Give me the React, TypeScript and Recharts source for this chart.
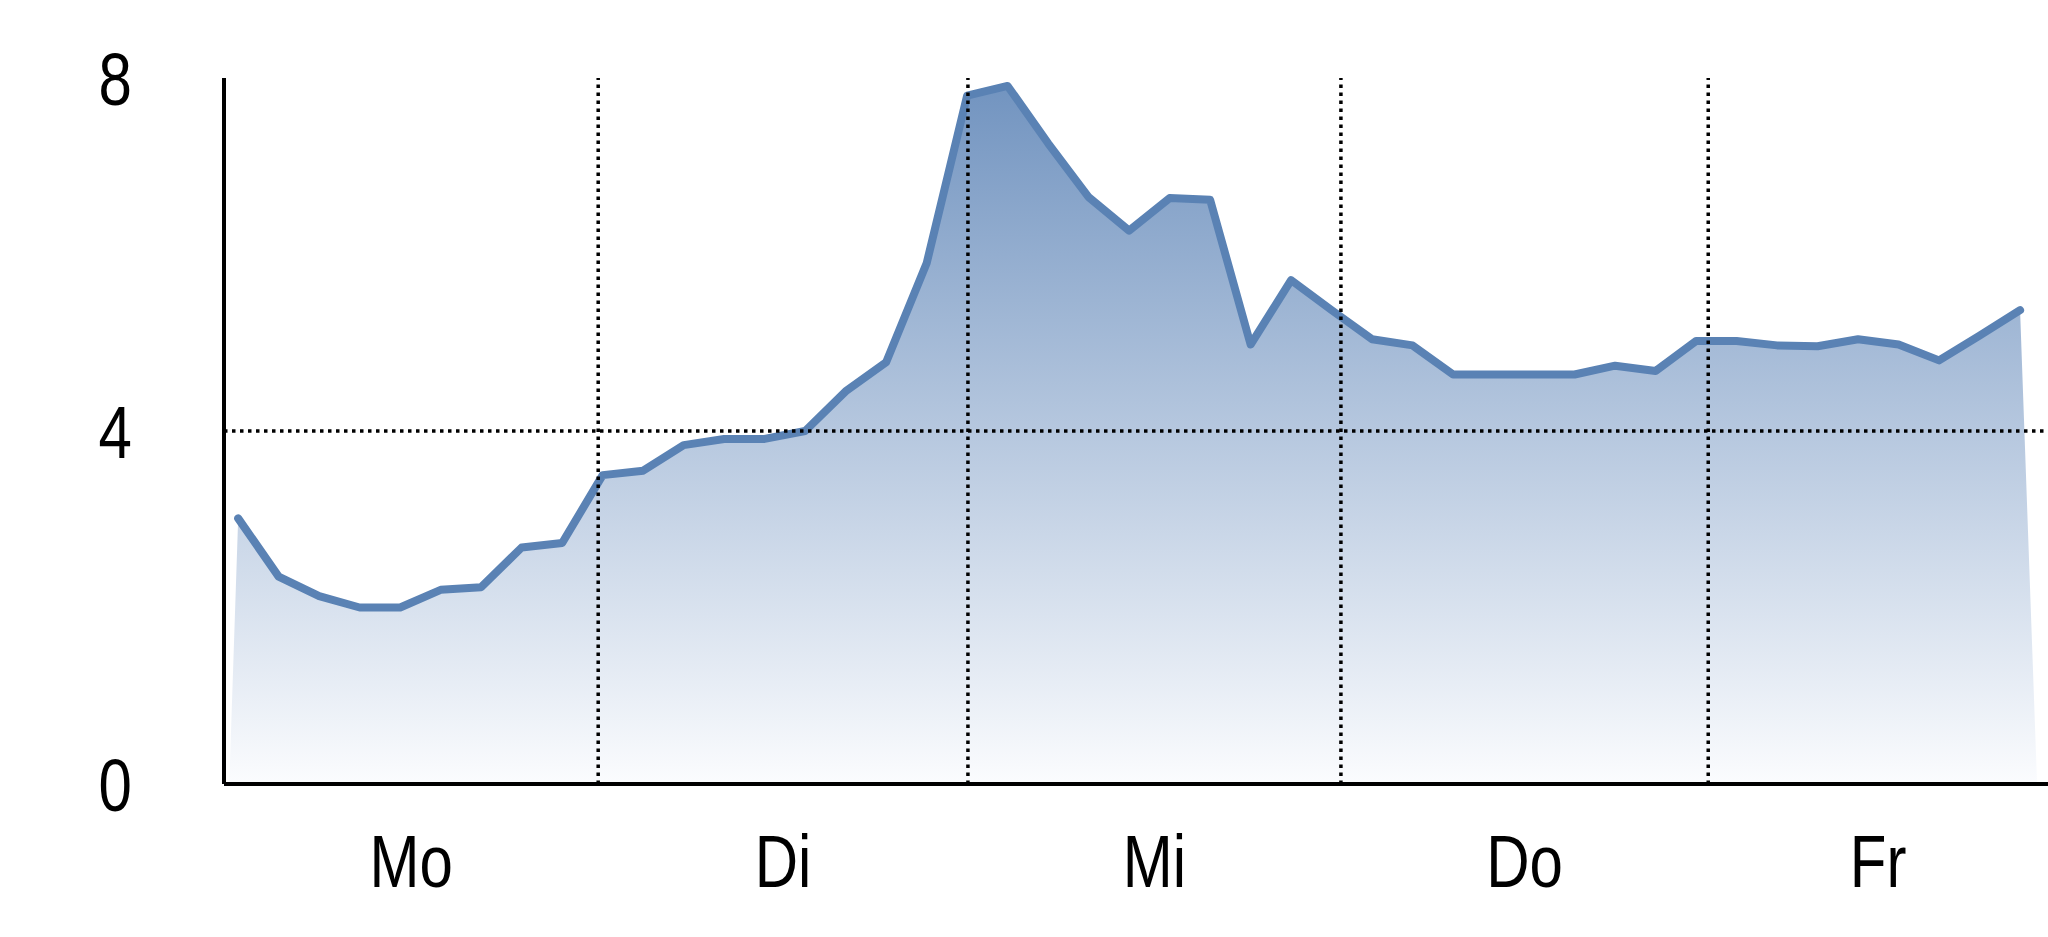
import { ComposedChart, Area, Line, XAxis, YAxis, ReferenceLine } from 'recharts';

// weekday labels (German)
const dayLabels = ['Mo', 'Di', 'Mi', 'Do', 'Fr'];
const dayStarts = [-0.35, 8.89, 18.02, 27.23, 36.3];
const rangeEnd = 44.69;
const yTicks = [0, 4, 8];

// sampled values, evenly spaced
const values = [
  3.01, 2.35, 2.13, 2.0, 2.0, 2.2, 2.23, 2.68, 2.73, 3.5,
  3.55, 3.84, 3.91, 3.91, 4.0, 4.45, 4.78, 5.9, 7.8, 7.91,
  7.26, 6.65, 6.27, 6.64, 6.62, 4.98, 5.71, 5.37, 5.04, 4.97,
  4.64, 4.64, 4.64, 4.64, 4.74, 4.68, 5.02, 5.02, 4.97, 4.96,
  5.04, 4.98, 4.8, 5.08, 5.37,
];
// the fill polygon reaches the baseline a little outside the line
const fillStart = -0.22;
const fillEnd = 44.42;

const points = values.map((v, i) => ({ i, v }));
const fillData = [{ i: fillStart, v: 0 }, ...points, { i: fillEnd, v: 0 }];

const dayEdges = [...dayStarts, rangeEnd];
const dayCenters = dayLabels.map((_, k) => (dayEdges[k] + dayEdges[k + 1]) / 2);

const dotted = { stroke: '#000', strokeWidth: 3.5, strokeDasharray: '3.5 4.5' };

// narrow sans labels: squeeze Liberation Sans horizontally
function CondensedTick({ x, y, payload, textAnchor, dy, label }: any) {
  return (
    <g transform={`translate(${x},${y})`}>
      <text
        transform="scale(0.8,1)"
        textAnchor={textAnchor}
        dy={dy}
        fontSize={75}
        fill="#000"
        fontFamily="Liberation Sans, Arial, sans-serif"
      >
        {label ? label(payload) : payload.value}
      </text>
    </g>
  );
}

export default function App() {
  return (
    <div style={{ position: 'absolute', left: 0, top: 0, background: '#fff' }}>
      <ComposedChart width={2048} height={937} margin={{ top: 78, right: 0, bottom: 0, left: 0 }}>
        <defs>
          <linearGradient id="areaFill" x1="0" y1="0" x2="0" y2="1">
            <stop offset="0%" stopColor="#7294c0" />
            <stop offset="100%" stopColor="#fbfcfe" />
          </linearGradient>
        </defs>
        <XAxis
          type="number"
          dataKey="i"
          domain={[dayStarts[0], rangeEnd]}
          allowDataOverflow
          ticks={dayCenters}
          interval={0}
          height={153}
          tickLine={false}
          tickSize={0}
          tickMargin={50}
          axisLine={{ stroke: '#000', strokeWidth: 4 }}
          tick={<CondensedTick dy="0.71em" label={(p: any) => dayLabels[p.index]} />}
        />
        <YAxis
          type="number"
          domain={[0, 8]}
          ticks={yTicks}
          width={224}
          tickLine={false}
          tickSize={0}
          tickMargin={92}
          axisLine={{ stroke: '#000', strokeWidth: 4 }}
          tick={<CondensedTick dy="0.355em" />}
        />
        <Area
          data={fillData}
          dataKey="v"
          type="linear"
          stroke="none"
          fill="url(#areaFill)"
          fillOpacity={1}
          isAnimationActive={false}
        />
        <Line
          data={points}
          dataKey="v"
          type="linear"
          stroke="#5a82b4"
          strokeWidth={8}
          strokeLinejoin="round"
          strokeLinecap="round"
          dot={false}
          activeDot={false}
          isAnimationActive={false}
        />
        {dayStarts.slice(1).map((x) => (
          <ReferenceLine key={x} x={x} {...dotted} />
        ))}
        <ReferenceLine y={4} {...dotted} />
      </ComposedChart>
    </div>
  );
}
